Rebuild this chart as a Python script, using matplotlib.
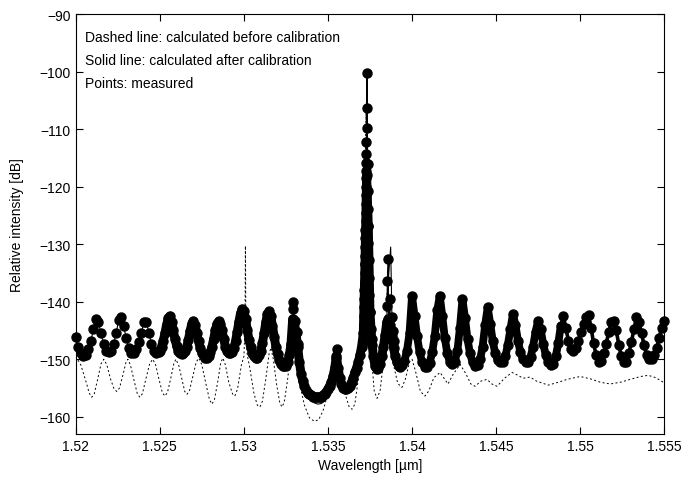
import numpy as np
import matplotlib
matplotlib.use("Agg")
import matplotlib.pyplot as plt
import matplotlib.ticker as mticker

plt.rcParams["font.family"] = ["Liberation Sans", "DejaVu Sans"]
plt.rcParams["font.size"] = 10

# ── measured points ─────────────────────────────────────────────────────────
# left part, sampled every 0.15 nm
wl_left = np.linspace(1.5200, 1.52495, 34)
p_left = [-146.2, -147.8, -149.0, -149.5, -149.2, -148.3, -146.8, -144.8, -143.0, -143.6,
          -145.5, -147.3, -148.5, -148.8, -148.5, -147.3, -145.5, -143.2, -142.6, -144.3,
          -146.3, -148.0, -149.0, -148.9, -148.2, -147.0, -145.4, -143.6, -143.6, -145.4,
          -147.3, -148.5, -149.0, -148.8]

# middle part, sampled every 0.1 nm (dense scan)
wl_mid = np.linspace(1.5250, 1.5393, 144)
p_mid = [-148.6, -147.8, -146.8, -145.5, -144.0, -142.9, -142.5, -143.5, -145.0, -146.5,
         -147.7, -148.5, -149.0, -149.1, -149.0, -148.6, -147.8, -146.6, -145.1, -143.8,
         -143.4, -144.1, -145.5, -146.9, -148.0, -148.9, -149.4, -149.7, -149.7, -149.4,
         -148.8, -147.8, -146.5, -145.0, -143.8, -143.4, -143.8, -145.0, -146.5, -147.8,
         -148.6, -149.0, -149.0, -148.7, -148.0, -146.9, -145.3, -143.5, -142.0, -141.3,
         -141.6, -143.0, -144.9, -146.6, -147.9, -148.9, -149.4, -149.7, -149.7, -149.3,
         -148.5, -147.2, -145.5, -143.6, -142.1, -141.7, -142.5, -144.3, -146.2, -147.8,
         -149.1, -150.1, -150.8, -151.1, -151.2, -151.1, -150.5, -149.3, -147.3, -143.0,
         -143.5, -145.5, -147.8, -150.5, -152.5, -153.8, -154.7, -155.3, -155.8, -156.1,
         -156.3, -156.5, -156.6, -156.6, -156.6, -156.6, -156.5, -156.3, -156.0, -155.7,
         -155.2, -154.6, -154.0, -153.0, -151.5, -149.5, -151.5, -153.2, -154.3, -155.0,
         -155.2, -155.2, -155.0, -154.6, -154.0, -153.2, -152.3, -151.5, -150.5, -149.3,
         -147.8, -145.5, -133.5, -118.0, -126.8, -141.8, -146.5, -149.5, -151.2, -151.7,
         -151.5, -150.8, -149.5, -147.8, -145.8, -143.5, -143.0, -144.0, -146.0, -148.0,
         -149.5, -150.5, -151.1, -151.3]

# right part, sampled every 0.15 nm
wl_right = np.linspace(1.5394, 1.5550, 105)
p_right = [-151.0, -150.3, -148.5, -145.5, -139.0, -142.5, -146.0, -148.8, -150.5, -151.3,
           -151.3, -150.6, -148.8, -146.0, -141.5, -139.0, -142.5, -146.3, -149.0, -150.5,
           -150.9, -150.4, -148.5, -144.5, -139.6, -142.8, -146.5, -149.0, -150.5, -151.2,
           -151.0, -150.0, -147.8, -144.0, -141.0, -143.8, -146.8, -149.0, -150.2, -150.5,
           -150.4, -149.5, -147.5, -144.8, -142.2, -144.0, -146.8, -148.8, -150.0, -150.5,
           -150.5, -149.6, -147.8, -145.2, -143.3, -144.8, -147.3, -149.2, -150.5, -151.0,
           -150.8, -149.5, -147.2, -144.2, -142.5, -144.5, -146.8, -148.2, -148.6, -148.0,
           -146.8, -145.2, -143.8, -142.6, -142.3, -144.5, -147.2, -149.3, -150.5, -150.3,
           -149.0, -147.3, -145.3, -143.6, -143.3, -145.0, -147.5, -149.5, -150.5, -150.4,
           -149.0, -147.0, -144.8, -142.6, -143.5, -145.5, -147.5, -149.2, -150.0, -150.0,
           -149.3, -148.0, -146.3, -144.5, -143.4]

# extra points on the steep peaks (1.533, 1.5355, 1.5373, 1.5387)
wl_pk = [1.53292, 1.53294, 1.53304, 1.53315, 1.53321,
         1.53548, 1.53548, 1.53554,
         1.53710, 1.53712, 1.53713, 1.53714, 1.53715, 1.53716, 1.53717, 1.53718, 1.53719,
         1.53720, 1.53721, 1.53722, 1.53722, 1.53723, 1.53724, 1.53724, 1.53725, 1.53726,
         1.53726, 1.53727, 1.53727, 1.53728, 1.53728, 1.53729, 1.53730, 1.53730, 1.53732,
         1.53736, 1.53738, 1.53739, 1.53740, 1.53741, 1.53743, 1.53745, 1.53747, 1.53750,
         1.53754, 1.53760,
         1.53852, 1.53853, 1.53859, 1.53869, 1.53879, 1.53887, 1.53893]
p_pk = [-140.1, -141.3, -143.4, -145.3, -147.4,
        -151.2, -149.8, -148.3,
        -147.0, -145.5, -144.0, -142.5, -141.0, -139.5, -138.0, -136.5, -135.0,
        -133.5, -132.0, -130.5, -129.0, -127.5, -126.0, -124.5, -123.0, -121.5,
        -120.0, -118.5, -117.3, -115.9, -114.3, -112.3, -109.8, -106.4, -100.3,
        -116.0, -120.8, -123.8, -126.8, -129.8, -132.8, -135.8, -138.8, -141.8,
        -144.8, -147.5,
        -140.8, -136.4, -132.6, -139.6, -142.7, -145.1, -146.9]

# ── calculated after calibration: parts that differ from the measurement ───
wl_cal = [1.5336, 1.5338, 1.5340, 1.5342, 1.5344, 1.5346, 1.5348, 1.5350, 1.5352, 1.5354, np.nan,
          1.5358, 1.5360, 1.5362, 1.5364, np.nan,
          1.53850, 1.53873, 1.53880]
p_cal = [-155.3, -156.5, -157.2, -157.6, -157.8, -157.7, -157.3, -156.5, -155.0, -152.5, np.nan,
         -155.0, -155.9, -155.7, -154.5, np.nan,
         -140.0, -130.5, -142.0]

# ── calculated before calibration (dashed) ─────────────────────────────────
wl_pre = [1.52000, 1.52030, 1.52060, 1.52080, 1.52095, 1.52110, 1.52130, 1.52150, 1.52167, 1.52185,
          1.52205, 1.52228, 1.52244, 1.52260, 1.52280, 1.52298, 1.52310, 1.52325, 1.52345, 1.52366,
          1.52381, 1.52396, 1.52418, 1.52440, 1.52458, 1.52475, 1.52495, 1.52515, 1.52530, 1.52545,
          1.52565, 1.52583, 1.52595, 1.52612, 1.52630, 1.52648, 1.52661, 1.52676, 1.52696, 1.52716,
          1.52732, 1.52750, 1.52772, 1.52795, 1.52810, 1.52825, 1.52845, 1.52862, 1.52875, 1.52890,
          1.52910, 1.52932, 1.52946, 1.52962, 1.52985, 1.53000, 1.53006, 1.53009, 1.53012, 1.53020,
          1.53035, 1.53060, 1.53080, 1.53095, 1.53110, 1.53130, 1.53150, 1.53161, 1.53175, 1.53195,
          1.53213, 1.53226, 1.53240, 1.53260, 1.53280, 1.53292, 1.53305, 1.53330, 1.53360, 1.53390,
          1.53420, 1.53445, 1.53470, 1.53500, 1.53530, 1.53554, 1.53575, 1.53600, 1.53625, 1.53643,
          1.53660, 1.53680, 1.53700, 1.53715, 1.53726, 1.53738, 1.53755, 1.53775, 1.53792, 1.53810,
          1.53830, 1.53850, 1.53857, 1.53870, 1.53890, 1.53915, 1.53940, 1.53960, 1.53985, 1.54000,
          1.54020, 1.54050, 1.54077, 1.54100, 1.54130, 1.54167, 1.54190, 1.54214, 1.54245, 1.54286,
          1.54320, 1.54350, 1.54375, 1.54410, 1.54446, 1.54475, 1.54506, 1.54550, 1.54595, 1.54630,
          1.54661, 1.54702, 1.54740, 1.54810, 1.54870, 1.54923, 1.55000, 1.55060, 1.55120, 1.55179,
          1.55240, 1.55298, 1.55360, 1.55405, 1.55450, 1.55494]
p_pre = [-149.5, -151.0, -153.8, -155.9, -156.6, -156.0, -153.5, -150.8, -150.0, -151.0,
         -153.3, -155.2, -155.6, -155.0, -152.8, -150.6, -150.0, -151.0, -153.5, -156.0,
         -156.6, -156.0, -153.3, -150.7, -150.0, -151.0, -153.5, -155.8, -156.4, -155.8,
         -153.3, -150.8, -150.0, -151.0, -153.3, -155.6, -156.1, -155.5, -153.0, -150.5,
         -149.8, -151.0, -154.0, -157.0, -157.8, -157.0, -153.8, -150.6, -149.8, -151.0,
         -154.0, -156.0, -156.4, -155.2, -151.0, -149.5, -145.0, -130.3, -145.0, -149.3,
         -151.5, -156.0, -158.0, -158.3, -157.3, -153.5, -149.0, -148.0, -150.0, -154.5,
         -157.5, -158.3, -157.5, -153.5, -148.5, -147.5, -149.5, -154.0, -158.0, -160.2,
         -160.8, -160.5, -159.0, -156.0, -152.5, -150.0, -152.0, -155.8, -158.2, -158.7,
         -157.8, -153.5, -145.0, -130.0, -107.0, -130.0, -148.0, -155.5, -156.8, -155.5,
         -150.5, -140.0, -136.0, -145.0, -151.0, -154.2, -154.9, -153.5, -150.5, -150.0,
         -152.0, -155.6, -156.4, -155.5, -153.2, -152.3, -153.3, -154.3, -152.6, -150.9,
         -152.5, -154.3, -154.7, -153.8, -153.5, -154.3, -154.7, -153.3, -152.3, -152.8,
         -153.3, -153.1, -153.8, -154.5, -154.0, -153.5, -153.0, -153.4, -154.0, -154.3,
         -154.0, -153.5, -153.0, -152.8, -153.2, -154.0]

notes = ["Dashed line: calculated before calibration",
         "Solid line: calculated after calibration",
         "Points: measured"]
xticks = [1.52, 1.525, 1.53, 1.535, 1.54, 1.545, 1.55, 1.555]
yticks = [-160, -150, -140, -130, -120, -110, -100, -90]

# measured points all together
wl_meas = np.concatenate([wl_left, wl_mid, wl_right, wl_pk])
p_meas = np.concatenate([p_left, p_mid, p_right, p_pk])
order = np.argsort(wl_meas, kind="stable")

fig = plt.figure(figsize=(6.89, 4.81), dpi=100)
ax = fig.add_axes([0.110, 0.0956, 0.854, 0.873])

ax.plot(wl_pre, p_pre, color="black", lw=0.7, linestyle=(0, (2, 2.5)))
ax.plot(wl_meas[order], p_meas[order], color="black", lw=0.8)
ax.plot(wl_cal, p_cal, color="black", lw=0.8)

# dense scans: overlapping dots form a solid band
band = dict(color="black", solid_joinstyle="round", solid_capstyle="round")
ax.plot(wl_mid, p_mid, lw=6.4, **band)
ax.plot(wl_right[:64], p_right[:64], lw=5.6, **band)
ax.plot(wl_right[63:], p_right[63:], lw=2.6, **band)
ax.plot(wl_meas, p_meas, "o", color="black", ms=6.5, mec="black", clip_on=False)

ax.set_xlim(1.52, 1.555)
ax.set_ylim(-163, -90)
ax.set_xticks(xticks)
ax.set_yticks(yticks)
ax.xaxis.set_major_formatter(mticker.FuncFormatter(lambda v, _: f"{v:g}"))
ax.tick_params(direction="in", top=True, right=True, length=5, width=0.8, labelsize=10)
for s in ax.spines.values():
    s.set_linewidth(0.8)

ax.set_xlabel("Wavelength [\u00b5m]", labelpad=4)
ax.set_ylabel("Relative intensity [dB]", labelpad=11)

for i, t in enumerate(notes):
    ax.text(0.0153, 0.946 - i * 0.0545, t, transform=ax.transAxes, va="center", ha="left", fontsize=10)

fig.savefig("out.png", dpi=100)
